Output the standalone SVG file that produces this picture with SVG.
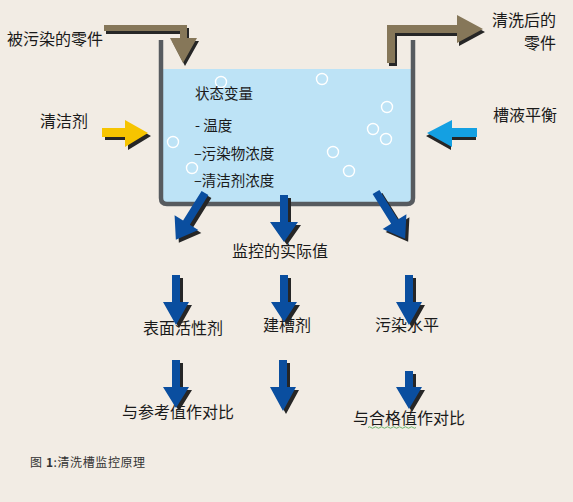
<svg xmlns="http://www.w3.org/2000/svg" width="573" height="502" viewBox="0 0 573 502">
<style>
text{font-family:"Noto Sans CJK SC","Liberation Sans",sans-serif;fill:#1a1a1a;font-size:16px}
.sm{font-size:14.5px}
.cap{font-size:12px;fill:#333;letter-spacing:0.6px}
.sh{fill:#262626}
.blue{fill:#0A4E9F}
.brown{fill:#867759}
.bub{fill:none;stroke:#ffffff;stroke-width:1.4}
</style>
<rect width="573" height="502" fill="#F2ECE4"/>
<g id="tank">
<rect x="163" y="69" width="248" height="134" fill="#BDE3F6"/>
<path d="M161,40 V198 Q161,204 167,204 H407 Q413,204 413,198 V40" fill="none" stroke="#575B5F" stroke-width="4.5"/>
<circle class="bub" cx="221" cy="82" r="5.5"/>
<circle class="bub" cx="173" cy="142" r="5.5"/>
<circle class="bub" cx="192" cy="168" r="5.5"/>
<circle class="bub" cx="322" cy="79" r="5.5"/>
<circle class="bub" cx="387" cy="107" r="5.5"/>
<circle class="bub" cx="373" cy="129" r="5.5"/>
<circle class="bub" cx="386" cy="139" r="5.5"/>
<circle class="bub" cx="333" cy="152" r="5.5"/>
<circle class="bub" cx="349" cy="171" r="5.5"/>
<text class="sm" x="195" y="99">状态变量</text>
<text class="sm" x="195" y="131">- 温度</text>
<text class="sm" x="194" y="159">–污染物浓度</text>
<text class="sm" x="194" y="186">–清洁剂浓度</text>
</g>
<g id="input-parts"><text x="7" y="45">被污染的零件</text></g>
<g id="output-parts"><text x="556" y="26" text-anchor="end" font-size="15.5">清洗后的</text><text x="556" y="49" text-anchor="end" font-size="15.5">零件</text></g>
<g id="cleaner"><text x="40" y="127">清洁剂</text></g>
<g id="balance"><text x="493" y="121">槽液平衡</text></g>
<g id="actual"><text x="232" y="257">监控的实际值</text></g>
<g id="surfactant"><text x="143" y="334">表面活性剂</text></g>
<g id="builder"><text x="263" y="331">建槽剂</text></g>
<g id="contamination"><text x="375" y="331">污染水平</text></g>
<g id="ref-compare"><text x="122" y="418">与参考值作对比</text></g>
<g id="limit-compare"><text x="353" y="424">与合格值作对比</text>
<path d="M368,427.5 q1.5,-1.5 3,0 t3,0 t3,0 t3,0 t3,0 t3,0 t3,0 t3,0 t3,0 t3,0 t3,0 t3,0 t3,0 t3,0 t3,0 t3,0" fill="none" stroke="#6DB46D" stroke-width="1"/></g>
<g id="caption"><text class="cap" x="30" y="467">图 <tspan font-weight="bold">1</tspan>:清洗槽监控原理</text></g>
<g id="connectors">
<path class="sh" transform="translate(2,3)" d="M104,25 H187 V38 H197 L183,63 L170,38 H180 V31 H104 Z"/>
<path class="brown" d="M104,25 H187 V38 H197 L183,63 L170,38 H180 V31 H104 Z"/>
<path class="sh" transform="translate(2,3)" d="M387,63 V25 H457 V15 L483,29 L457,43 V33 H395 V63 Z"/>
<path class="brown" d="M387,63 V25 H457 V15 L483,29 L457,43 V33 H395 V63 Z"/>
<path class="sh" transform="translate(3,3)" d="M102,128 H125 V120 L148,133 L125,147 V137 H102 Z"/>
<path fill="#F6C400" d="M102,128 H125 V120 L148,133 L125,147 V137 H102 Z"/>
<path class="sh" transform="translate(-1,3)" d="M477,128 H452 V120 L427,133 L452,147 V137 H477 Z"/>
<path fill="#14A0E2" d="M477,128 H452 V120 L427,133 L452,147 V137 H477 Z"/>
<g transform="translate(3,3)"><path class="sh" transform="translate(205,193) rotate(32)" d="M-4,0 H4 V35 H14 L0,55 L-14,35 H-4 Z"/></g>
<path class="blue" transform="translate(205,193) rotate(32)" d="M-4,0 H4 V35 H14 L0,55 L-14,35 H-4 Z"/>
<path class="sh" transform="translate(287,198)" d="M-4,0 H4 V27 H14 L0,47 L-14,27 H-4 Z"/>
<path class="blue" transform="translate(284,195)" d="M-4,0 H4 V27 H14 L0,47 L-14,27 H-4 Z"/>
<g transform="translate(3,3)"><path class="sh" transform="translate(376,192) rotate(-32)" d="M-4,0 H4 V35 H14 L0,55 L-14,35 H-4 Z"/></g>
<path class="blue" transform="translate(376,192) rotate(-32)" d="M-4,0 H4 V35 H14 L0,55 L-14,35 H-4 Z"/>
<path class="sh" transform="translate(179,278)" d="M-4,0 H4 V27 H13 L0,50 L-13,27 H-4 Z"/>
<path class="blue" transform="translate(176,275)" d="M-4,0 H4 V27 H13 L0,50 L-13,27 H-4 Z"/>
<path class="sh" transform="translate(287,278)" d="M-4,0 H4 V27 H13 L0,47 L-13,27 H-4 Z"/>
<path class="blue" transform="translate(284,275)" d="M-4,0 H4 V27 H13 L0,47 L-13,27 H-4 Z"/>
<path class="sh" transform="translate(412,278)" d="M-4,0 H4 V27 H13 L0,50 L-13,27 H-4 Z"/>
<path class="blue" transform="translate(409,275)" d="M-4,0 H4 V27 H13 L0,50 L-13,27 H-4 Z"/>
<path class="sh" transform="translate(179,363)" d="M-4,0 H4 V27 H13 L0,48 L-13,27 H-4 Z"/>
<path class="blue" transform="translate(176,360)" d="M-4,0 H4 V27 H13 L0,48 L-13,27 H-4 Z"/>
<path class="sh" transform="translate(286,363)" d="M-4,0 H4 V27 H13 L0,51 L-13,27 H-4 Z"/>
<path class="blue" transform="translate(283,360)" d="M-4,0 H4 V27 H13 L0,51 L-13,27 H-4 Z"/>
<path class="sh" transform="translate(412,374)" d="M-4,0 H4 V16 H13 L0,38 L-13,16 H-4 Z"/>
<path class="blue" transform="translate(409,371)" d="M-4,0 H4 V16 H13 L0,38 L-13,16 H-4 Z"/>
</g>
</svg>
